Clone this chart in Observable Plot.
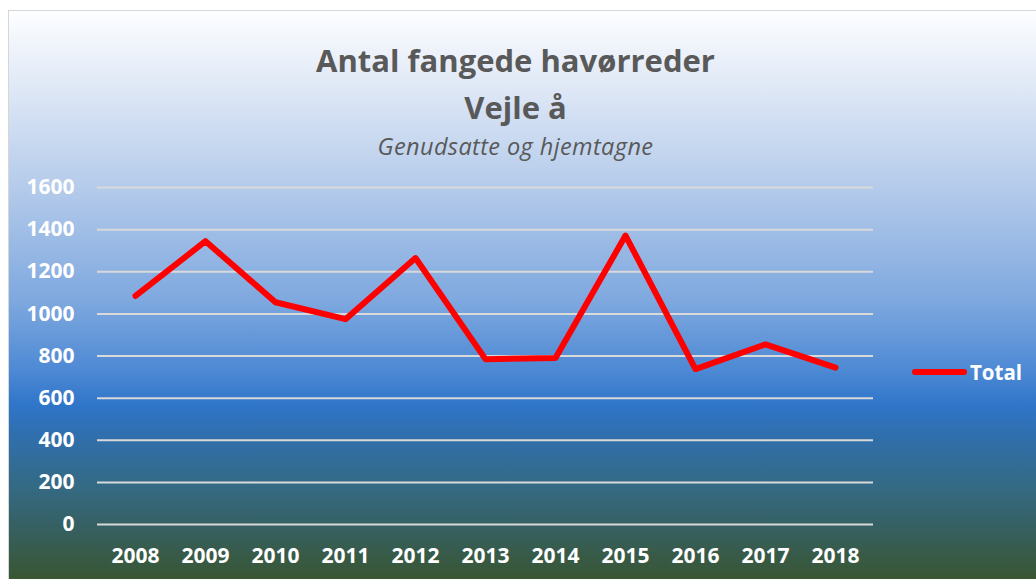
<!DOCTYPE html>
<html>
<head>
<meta charset="utf-8">
<script src="https://cdn.jsdelivr.net/npm/d3@7"></script>
<script src="https://cdn.jsdelivr.net/npm/@observablehq/plot@0.6"></script>
<style>
  html, body { margin: 0; padding: 0; background: #ffffff; }
  body { width: 1036px; height: 579px; position: relative; overflow: hidden; font-family: "Open Sans", sans-serif; }
  #frame {
    position: absolute; left: 8px; top: 10px; width: 1040px; height: 580px;
    border-left: 1px solid #d6d6d6; border-top: 1px solid #d6d6d6;
    background: linear-gradient(to bottom,
      #fdfeff 0%, #e9eff9 9%, #b3caea 31%, #7ea8df 50%, #4d89d4 62%, #2f75c9 68%,
      #306fae 73%, #346a84 82%, #365f5c 90%, #3a5428 100%);
  }
  .title { position: absolute; left: 0; width: 1031px; text-align: center; color: #595959; font-weight: 700; }
  #t1 { top: 39px; font-size: 31px; letter-spacing: 0px; }
  #t2 { top: 86px; font-size: 31px; }
  #sub { position: absolute; left: 0; width: 1031px; top: 130px; text-align: center; color: #595959; font-style: italic; font-size: 23.5px; letter-spacing: 0.4px; }
  #chart { position: absolute; left: 0; top: 170px; }
  #legend { position: absolute; left: 912px; top: 358px; display: flex; align-items: center; }
  #legend .sw { width: 55px; height: 6px; background: #ff0000; border-radius: 3px; }
  #legend .lb { color: #ffffff; font-weight: 700; font-size: 20.5px; margin-left: 3px; }
</style>
</head>
<body>
<div id="frame"></div>
<div class="title" id="t1">Antal fangede havørreder</div>
<div class="title" id="t2">Vejle å</div>
<div id="sub">Genudsatte og hjemtagne</div>
<div id="chart"></div>
<div id="legend"><div class="sw"></div><div class="lb">Total</div></div>
<script>
const years = ["2008","2009","2010","2011","2012","2013","2014","2015","2016","2017","2018"];
const totals = [1085, 1345, 1055, 975, 1265, 785, 790, 1372, 738, 855, 745];
const yTicks = [0, 200, 400, 600, 800, 1000, 1200, 1400, 1600];
const seriesName = "Total";

const data = years.map((y, i) => ({year: y, value: totals[i], series: seriesName}));

const plot = Plot.plot({
  width: 1036,
  height: 409,
  marginLeft: 97,
  marginRight: 163,
  marginTop: 17,
  marginBottom: 55,
  style: { background: "transparent", fontFamily: "Open Sans, sans-serif", overflow: "visible" },
  x: { type: "point", domain: years, padding: 0.5, label: null },
  y: { domain: [0, 1600], ticks: yTicks, label: null },
  marks: [
    Plot.ruleY(yTicks, { stroke: "#d9d9d9", strokeWidth: 2 }),
    Plot.axisY({ ticks: yTicks, tickFormat: d => String(d), tickSize: 0, tickPadding: 23, fill: "#ffffff", fontSize: 21, fontWeight: 700, label: null }),
    Plot.axisX({ tickSize: 0, tickPadding: 24, fill: "#ffffff", fontSize: 21, fontWeight: 700, label: null }),
    Plot.line(data, { x: "year", y: "value", stroke: "#ff0000", strokeWidth: 6, strokeLinejoin: "round", strokeLinecap: "round" })
  ]
});
document.getElementById("chart").appendChild(plot);
</script>
</body>
</html>
